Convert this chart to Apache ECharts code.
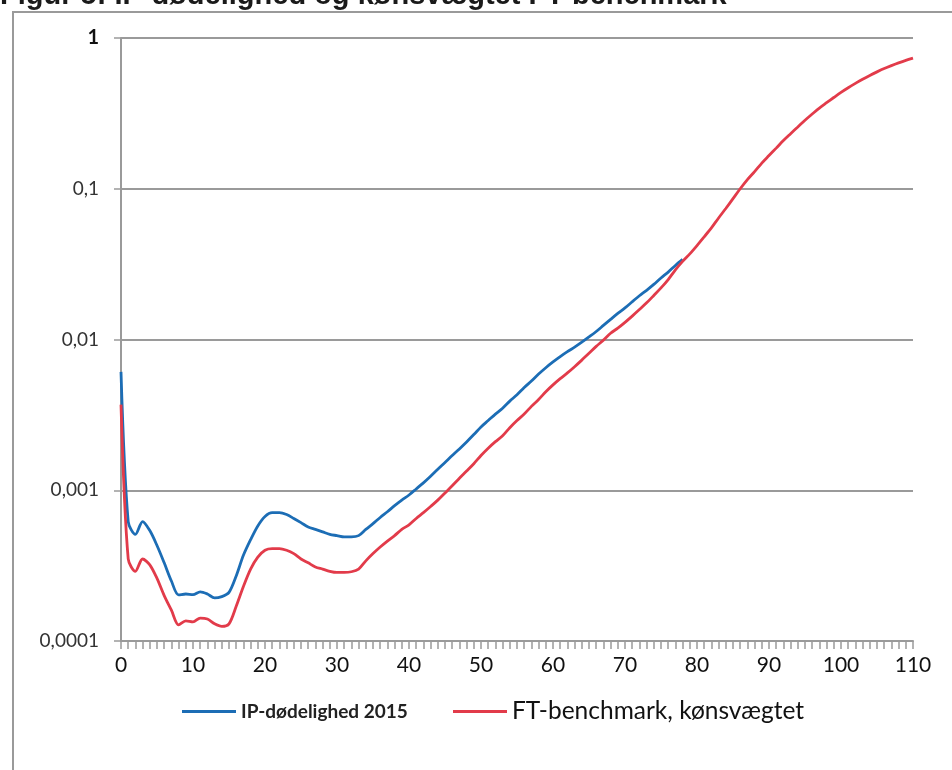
<!DOCTYPE html>
<html>
<head>
<meta charset="utf-8">
<script src="https://cdn.jsdelivr.net/npm/echarts@6/dist/echarts.min.js"></script>
<style>
  html, body { margin: 0; padding: 0; background: #fff; }
  #chart { width: 952px; height: 770px; }
</style>
</head>
<body>
<div id="chart"></div>
<script>
// Alder 0..110
const ages = Array.from({ length: 111 }, (_, i) => i);

// IP-dødelighed 2015 (alder 0..78)
const ipMortality = [
  0.0061, 0.00062, 0.00051, 0.00062, 0.00054, 0.00043, 0.00033, 0.00025, 0.000202, 0.000205,
  0.000203, 0.000212, 0.000205, 0.000193, 0.000197, 0.00021, 0.00027, 0.00037, 0.00047, 0.00058,
  0.00067, 0.00071, 0.00071, 0.00069, 0.00065, 0.00061, 0.00057, 0.00055, 0.00053, 0.00051,
  0.0005, 0.00049, 0.00049, 0.0005, 0.00055, 0.0006, 0.00066, 0.00072, 0.00079, 0.00086,
  0.00093, 0.00102, 0.00112, 0.00124, 0.00138, 0.00153, 0.0017, 0.00188, 0.00209, 0.00234,
  0.00263, 0.0029, 0.0032, 0.0035, 0.0039, 0.0043, 0.0048, 0.0053, 0.0059, 0.0065,
  0.0071, 0.0077, 0.0083, 0.0089, 0.0096, 0.0104, 0.0113, 0.0124, 0.0136, 0.0149,
  0.0162, 0.0178, 0.0195, 0.0212, 0.0232, 0.0256, 0.028, 0.031, 0.034
];

// FT-benchmark, kønsvægtet (alder 0..110)
const ftBenchmark = [
  0.0037, 0.00035, 0.00029, 0.00035, 0.00032, 0.00026, 0.0002, 0.00016, 0.000128, 0.000136,
  0.000134, 0.000142, 0.00014, 0.00013, 0.000125, 0.00013, 0.00017, 0.00023, 0.0003, 0.00036,
  0.0004, 0.00041, 0.00041, 0.0004, 0.00038, 0.00035, 0.00033, 0.00031, 0.0003, 0.00029,
  0.000285, 0.000285, 0.000288, 0.0003, 0.00034, 0.00038, 0.00042, 0.00046, 0.0005, 0.00055,
  0.00059, 0.00065, 0.00071, 0.00078, 0.00086, 0.00096, 0.00107, 0.0012, 0.00134, 0.0015,
  0.0017, 0.0019, 0.0021, 0.0023, 0.0026, 0.0029, 0.0032, 0.0036, 0.004, 0.0045,
  0.005, 0.0055, 0.006, 0.0066, 0.0073, 0.0081, 0.009, 0.0099, 0.011, 0.0119,
  0.013, 0.0143, 0.0158, 0.0175, 0.0196, 0.022, 0.025, 0.029, 0.033, 0.037,
  0.042, 0.048, 0.055, 0.064, 0.074, 0.086, 0.1, 0.115, 0.13, 0.148,
  0.166, 0.186, 0.209, 0.232, 0.257, 0.285, 0.313, 0.343, 0.372, 0.403,
  0.436, 0.468, 0.5, 0.533, 0.565, 0.596, 0.627, 0.656, 0.684, 0.711,
  0.736
];

// Y-aksens etiketter (dansk decimalkomma)
const yTickLabels = { 1: '1', 0.1: '0,1', 0.01: '0,01', 0.001: '0,001', 0.0001: '0,0001' };

const seriesNames = ['IP-dødelighed 2015', 'FT-benchmark, kønsvægtet'];
const titleText = 'Figur 5: IP-dødelighed og kønsvægtet FT-benchmark';

const toPairs = (vals) => vals.map((v, i) => [ages[i], v]);

const chart = echarts.init(document.getElementById('chart'), null, { renderer: 'canvas' });

chart.setOption({
  backgroundColor: '#ffffff',
  animation: false,
  graphic: [
    {
      type: 'text',
      left: 0,
      top: -19,
      style: {
        text: titleText,
        font: 'bold 29px "Liberation Sans", Arial, sans-serif',
        fill: '#1a1a1a'
      }
    },
    {
      type: 'polyline',
      shape: { points: [[13, 775], [13, 12], [960, 12]] },
      style: { stroke: '#9a9a9a', lineWidth: 2, fill: null }
    }
  ],
  legend: [
    {
      data: [seriesNames[0]],
      left: 177,
      top: 697,
      icon: 'rect',
      itemWidth: 54,
      itemHeight: 3,
      itemGap: 4,
      textStyle: { fontFamily: 'Lato, "Open Sans", sans-serif', fontSize: 19, fontWeight: 'bold', color: '#222' }
    },
    {
      data: [seriesNames[1]],
      left: 448,
      top: 694,
      icon: 'rect',
      itemWidth: 54,
      itemHeight: 3,
      itemGap: 4,
      textStyle: { fontFamily: 'Lato, "Open Sans", sans-serif', fontSize: 24.5, color: '#111' }
    }
  ],
  grid: { left: 121, top: 38, right: 39, bottom: 129, containLabel: false },
  xAxis: {
    type: 'value',
    min: 0,
    max: 110,
    interval: 10,
    axisLine: { show: true, lineStyle: { color: '#9a9a9a', width: 2 } },
    axisTick: { show: true, length: 8, lineStyle: { color: '#9a9a9a', width: 1.5 } },
    minorTick: { show: true, splitNumber: 10, length: 8, lineStyle: { color: '#9a9a9a', width: 1.5 } },
    splitLine: { show: false },
    axisLabel: {
      margin: 14,
      fontFamily: 'Lato, "Open Sans", sans-serif',
      fontSize: 21,
      color: '#111'
    }
  },
  yAxis: {
    type: 'log',
    logBase: 10,
    min: 0.0001,
    max: 1,
    axisLine: { show: true, lineStyle: { color: '#9a9a9a', width: 2 } },
    axisTick: { show: true, length: 7, lineStyle: { color: '#9a9a9a', width: 1.5 } },
    splitLine: { show: true, lineStyle: { color: '#9a9a9a', width: 2 } },
    axisLabel: {
      margin: 22,
      fontFamily: 'Lato, "Open Sans", sans-serif',
      fontSize: 19,
      color: '#333',
      formatter: (v) => {
        const key = Object.keys(yTickLabels).find(k => Math.abs(Math.log10(+k) - Math.log10(v)) < 1e-6);
        const t = key !== undefined ? yTickLabels[key] : '';
        return t === '1' ? '{one|1}' : t;
      },
      rich: {
        one: { fontFamily: 'Lato, "Open Sans", sans-serif', fontSize: 20, fontWeight: 'bold', color: '#111' }
      }
    }
  },
  series: [
    {
      name: seriesNames[0],
      type: 'line',
      data: toPairs(ipMortality),
      showSymbol: false,
      smooth: 0.3,
      lineStyle: { color: '#1c6db5', width: 2.8 },
      itemStyle: { color: '#1c6db5' },
      z: 2
    },
    {
      name: seriesNames[1],
      type: 'line',
      data: toPairs(ftBenchmark),
      showSymbol: false,
      smooth: 0.3,
      lineStyle: { color: '#e23b4a', width: 2.8 },
      itemStyle: { color: '#e23b4a' },
      z: 3
    }
  ]
});
</script>
</body>
</html>
